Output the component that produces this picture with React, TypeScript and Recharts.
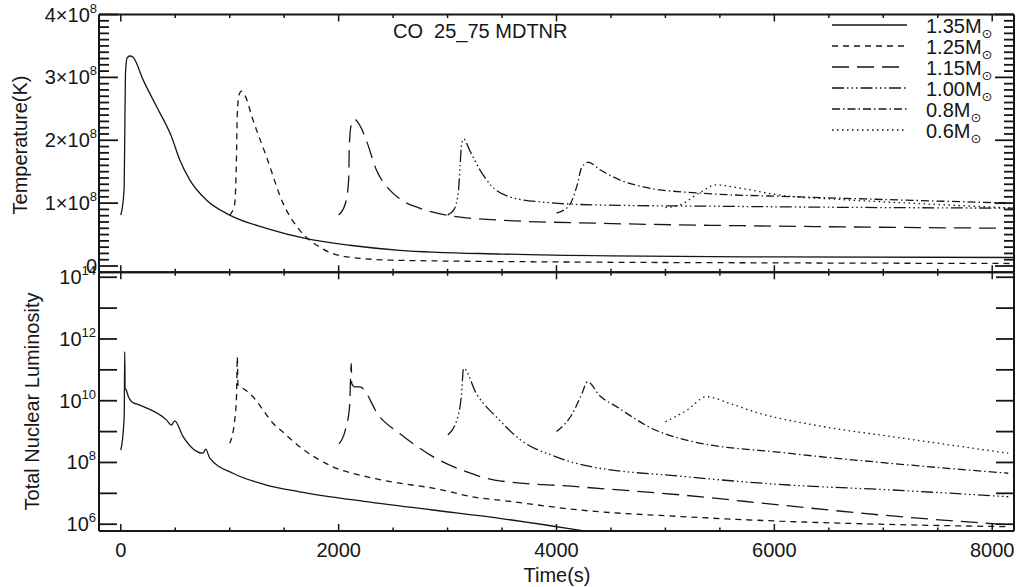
import React from 'react';
import { LineChart, Line, XAxis, YAxis } from 'recharts';

// ---------- layout ----------
const W = 1019;
const H = 587;
const PLOT_LEFT = 99;
const PLOT_RIGHT = 1014;
const TOP_Y0 = 14.5;
const MID_Y = 272.3;
const BOT_Y1 = 531;
const AX = 1; // thickness reserved by each axis
const FONT = '"Liberation Sans", Arial, Helvetica, sans-serif';
const INK = '#161616';

// ---------- ticks ----------
const xDomain = [-200, 8200];
const xTicks = [0, 500, 1000, 1500, 2000, 2500, 3000, 3500, 4000, 4500, 5000, 5500, 6000, 6500, 7000, 7500, 8000];
const xLabelTicks = [0, 2000, 4000, 6000, 8000];
const tempDomain = [-0.1, 4];
const tempMajorTicks = [0, 1, 2, 3, 4];
const tempTicks = Array.from({ length: 41 }, (_, i) => i / 10);
const lumDomain = [5.78, 14.16];
const lumTicks = [6, 7, 8, 9, 10, 11, 12, 13, 14];
const lumLabelTicks = [6, 8, 10, 12, 14];

// ---------- data: Temperature (units of 1e8 K) ----------
const m135TempTime = [0, 15, 31, 37, 43, 58, 83, 113, 205, 327, 465, 541, 633, 786, 1000, 1337, 1703, 2101, 2560, 3500, 4500, 6000, 8200];
const m135Temp = [0.81, 0.94, 1.26, 2.16, 3.07, 3.31, 3.34, 3.32, 2.96, 2.54, 2.06, 1.69, 1.37, 1.05, 0.81, 0.6, 0.437, 0.33, 0.25, 0.19, 0.16, 0.145, 0.135];

const m125TempTime = [1000, 1046, 1061, 1070, 1086, 1107, 1138, 1214, 1337, 1489, 1642, 1826, 2101, 2560, 4000, 6000, 8200];
const m125Temp = [0.81, 0.99, 1.63, 2.43, 2.72, 2.78, 2.72, 2.32, 1.74, 1.0, 0.57, 0.3, 0.14, 0.09, 0.065, 0.05, 0.04];

const m115TempTime = [2000, 2061, 2092, 2098, 2113, 2147, 2193, 2254, 2346, 2468, 2560, 2743, 2990, 3477, 4394, 6229, 8200];
const m115Temp = [0.81, 0.99, 1.37, 1.9, 2.22, 2.33, 2.24, 2.0, 1.53, 1.21, 1.07, 0.92, 0.81, 0.73, 0.68, 0.63, 0.6];

const m100TempTime = [3000, 3060, 3100, 3115, 3130, 3150, 3200, 3300, 3400, 3570, 3850, 4400, 5500, 6500, 8200];
const m100Temp = [0.81, 0.9, 1.2, 1.6, 1.95, 2.02, 1.85, 1.52, 1.28, 1.1, 1.02, 0.97, 0.95, 0.935, 0.92];

const m080TempTime = [4000, 4120, 4190, 4230, 4290, 4400, 4580, 4850, 5310, 6230, 7150, 8200];
const m080Temp = [0.84, 0.97, 1.29, 1.56, 1.65, 1.53, 1.37, 1.24, 1.16, 1.1, 1.05, 1.0];

const m060TempTime = [5000, 5130, 5310, 5460, 5680, 6040, 6690, 7600, 8200];
const m060Temp = [0.93, 0.97, 1.16, 1.29, 1.24, 1.13, 1.05, 0.97, 0.92];

// ---------- data: log10 Total Nuclear Luminosity ----------
const m135LumTime = [0, 20, 32, 36, 40, 50, 70, 100, 174, 419, 465, 495, 572, 755, 780, 817, 1030, 1337, 1642, 2254, 2862, 3477, 4257];
const m135Lum = [8.4, 8.9, 9.6, 11.59, 10.4, 10.35, 10.13, 9.97, 9.86, 9.38, 9.21, 9.35, 8.84, 8.3, 8.43, 8.14, 7.65, 7.27, 7.05, 6.73, 6.46, 6.19, 5.78];

const m125LumTime = [1000, 1046, 1062, 1070, 1076, 1100, 1150, 1214, 1306, 1398, 1483, 1642, 1948, 2254, 2560, 2865, 3294, 3477, 4211, 5128, 6046, 6963, 8147];
const m125Lum = [8.62, 9.38, 10.1, 11.42, 10.51, 10.45, 10.33, 10.13, 9.7, 9.27, 9.0, 8.51, 7.86, 7.54, 7.33, 7.17, 6.85, 6.78, 6.46, 6.25, 6.1, 6.0, 5.92];

const m115LumTime = [2003, 2061, 2100, 2116, 2120, 2147, 2193, 2376, 2560, 2865, 3171, 3431, 4211, 5138, 6055, 6972, 8147];
const m115Lum = [8.6, 9.05, 9.8, 11.21, 10.56, 10.45, 10.45, 9.48, 8.94, 8.19, 7.7, 7.43, 7.21, 6.95, 6.62, 6.3, 5.98];

const m100LumTime = [3003, 3094, 3126, 3147, 3263, 3461, 3670, 3991, 4239, 5183, 6128, 7073, 8147];
const m100Lum = [8.89, 9.48, 10.13, 11.05, 10.24, 9.43, 8.73, 8.19, 7.92, 7.54, 7.27, 7.11, 6.89];

const m080LumTime = [4000, 4147, 4230, 4284, 4400, 4550, 4872, 5183, 6128, 7073, 8147];
const m080Lum = [9.0, 9.59, 10.2, 10.61, 10.15, 9.81, 9.11, 8.73, 8.3, 7.97, 7.65];

const m060LumTime = [5000, 5200, 5376, 5600, 5817, 6450, 7073, 8147];
const m060Lum = [9.32, 9.7, 10.13, 9.9, 9.64, 9.16, 8.84, 8.3];

// ---------- series ----------
const seriesNames = ['1.35', '1.25', '1.15', '1.00', '0.8', '0.6'];
const seriesDash = ['', '6 5', '17 8', '12 3 1.5 3 1.5 3 1.5 3', '8 3 1.5 3', '1.5 3.5'];

const pairs = (ts: number[], vs: number[]) => ts.map((t, i) => ({ t, v: vs[i] }));

const tempData = [
  pairs(m135TempTime, m135Temp),
  pairs(m125TempTime, m125Temp),
  pairs(m115TempTime, m115Temp),
  pairs(m100TempTime, m100Temp),
  pairs(m080TempTime, m080Temp),
  pairs(m060TempTime, m060Temp),
];
const lumData = [
  pairs(m135LumTime, m135Lum),
  pairs(m125LumTime, m125Lum),
  pairs(m115LumTime, m115Lum),
  pairs(m100LumTime, m100Lum),
  pairs(m080LumTime, m080Lum),
  pairs(m060LumTime, m060Lum),
];

// ---------- tick renderers ----------
const makeXTick = (dir: number, labels: boolean) => (props: any) => {
  const { x, y, payload } = props;
  const v = payload.value;
  const major = xLabelTicks.includes(v);
  const len = major ? 7 : 3.5;
  return (
    <g>
      <line x1={x} x2={x} y1={y} y2={y + dir * len} stroke={INK} strokeWidth={1.5} />
      {labels && major && (
        <text x={x} y={y + 26} textAnchor="middle" fontSize={20} fontFamily={FONT} fill={INK}>
          {v}
        </text>
      )}
    </g>
  );
};

const makeTempTick = (left: boolean) => (props: any) => {
  const { x, y, payload } = props;
  const v = payload.value;
  const major = tempMajorTicks.some((m) => Math.abs(m - v) < 1e-6);
  const len = major ? 19 : 10;
  const dir = left ? 1 : -1;
  return (
    <g>
      <line x1={x} x2={x + dir * len} y1={y} y2={y} stroke={INK} strokeWidth={1.8} />
      {left && major && (
        <text x={x - 2} y={y + 7} textAnchor="end" fontSize={20} fontFamily={FONT} fill={INK}>
          {Math.round(v) === 0 ? (
            '0'
          ) : (
            <>
              {`${Math.round(v)}×10`}
              <tspan dy={-9} fontSize={13}>8</tspan>
            </>
          )}
        </text>
      )}
    </g>
  );
};

const makeLumTick = (left: boolean) => (props: any) => {
  const { x, y, payload } = props;
  const v = Math.round(payload.value);
  const dir = left ? 1 : -1;
  return (
    <g>
      <line x1={x} x2={x + dir * 18} y1={y} y2={y} stroke={INK} strokeWidth={1.8} />
      {left && lumLabelTicks.includes(v) && (
        <text x={x - 3} y={y + 7} textAnchor="end" fontSize={20} fontFamily={FONT} fill={INK}>
          10
          <tspan dy={-9} fontSize={13}>{String(v)}</tspan>
        </text>
      )}
    </g>
  );
};

const axisLine = { stroke: INK, strokeWidth: 2 };

const renderLines = (data: { t: number; v: number }[][]) =>
  data.map((d, i) => (
    <Line
      key={seriesNames[i]}
      data={d}
      dataKey="v"
      xAxisId="b"
      yAxisId="l"
      type="monotone"
      stroke={INK}
      strokeWidth={1.3}
      strokeDasharray={seriesDash[i] || undefined}
      dot={false}
      activeDot={false}
      isAnimationActive={false}
    />
  ));

const Axes = (yDomain: number[], yTicks: number[], yTickL: any, yTickR: any, showXLabels: boolean) => [
  <XAxis
    key="xb"
    xAxisId="b"
    orientation="bottom"
    type="number"
    dataKey="t"
    domain={xDomain}
    ticks={xTicks}
    allowDataOverflow
    interval={0}
    height={AX}
    tickSize={0}
    tickMargin={0}
    tickLine={false}
    axisLine={axisLine}
    tick={makeXTick(-1, showXLabels)}
  />,
  <XAxis
    key="xt"
    xAxisId="t"
    orientation="top"
    type="number"
    dataKey="t"
    domain={xDomain}
    ticks={xTicks}
    allowDataOverflow
    interval={0}
    height={AX}
    tickSize={0}
    tickMargin={0}
    tickLine={false}
    axisLine={axisLine}
    tick={makeXTick(1, false)}
  />,
  <YAxis
    key="yl"
    yAxisId="l"
    orientation="left"
    type="number"
    domain={yDomain}
    ticks={yTicks}
    allowDataOverflow
    interval={0}
    width={AX}
    tickSize={0}
    tickMargin={0}
    tickLine={false}
    axisLine={axisLine}
    tick={yTickL}
  />,
  <YAxis
    key="yr"
    yAxisId="r"
    orientation="right"
    type="number"
    domain={yDomain}
    ticks={yTicks}
    allowDataOverflow
    interval={0}
    width={AX}
    tickSize={0}
    tickMargin={0}
    tickLine={false}
    axisLine={axisLine}
    tick={yTickR}
  />,
];

// ---------- legend ----------
const legendX1 = 832;
const legendX2 = 907;
const legendTextX = 926;
const legendY0 = 25;
const legendStep = 21;

const TOP_H = 300;

export default function App() {
  return (
    <div style={{ position: 'absolute', left: 0, top: 0, width: W, height: H, background: '#fff' }}>
      <div style={{ position: 'absolute', left: 0, top: 0 }}>
        <LineChart
          width={W}
          height={H}
          margin={{
            top: MID_Y - AX,
            right: W - PLOT_RIGHT - AX,
            bottom: H - BOT_Y1 - AX,
            left: PLOT_LEFT - AX,
          }}
        >
          {Axes(lumDomain, lumTicks, makeLumTick(true), makeLumTick(false), true)}
          {renderLines(lumData)}
        </LineChart>
      </div>
      <div style={{ position: 'absolute', left: 0, top: 0, pointerEvents: 'none' }}>
        <LineChart
          width={W}
          height={TOP_H}
          margin={{
            top: TOP_Y0 - AX,
            right: W - PLOT_RIGHT - AX,
            bottom: TOP_H - MID_Y - AX,
            left: PLOT_LEFT - AX,
          }}
        >
          {Axes(tempDomain, tempTicks, makeTempTick(true), makeTempTick(false), false)}
          {renderLines(tempData)}
        </LineChart>
      </div>
      <svg
        width={W}
        height={H}
        style={{ position: 'absolute', left: 0, top: 0, pointerEvents: 'none' }}
        fontFamily={FONT}
        fill={INK}
      >
        <text x={393} y={38} fontSize={20} style={{ whiteSpace: 'pre' }}>
          CO  25_75 MDTNR
        </text>
        {seriesNames.map((n, i) => {
          const y = legendY0 + i * legendStep;
          return (
            <g key={n}>
              <line
                x1={legendX1}
                x2={legendX2}
                y1={y}
                y2={y}
                stroke={INK}
                strokeWidth={1.3}
                strokeDasharray={seriesDash[i] || undefined}
              />
              <text x={legendTextX} y={y + 7.5} fontSize={20}>
                {`${n}M`}
                <tspan dy={5} fontSize={13} fontFamily='"DejaVu Sans", sans-serif'>⊙</tspan>
              </text>
            </g>
          );
        })}
        <text transform="translate(27,145) rotate(-90)" textAnchor="middle" fontSize={20}>
          Temperature(K)
        </text>
        <text transform="translate(38.5,401.5) rotate(-90)" textAnchor="middle" fontSize={20}>
          Total Nuclear Luminosity
        </text>
        <text x={557} y={582} textAnchor="middle" fontSize={20}>
          Time(s)
        </text>
      </svg>
    </div>
  );
}
